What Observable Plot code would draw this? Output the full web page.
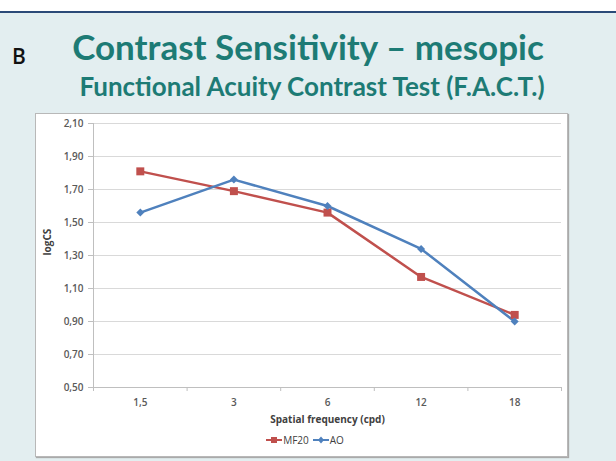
<!DOCTYPE html>
<html>
<head>
<meta charset="utf-8">
<script src="https://cdn.jsdelivr.net/npm/d3@7"></script>
<script src="https://cdn.jsdelivr.net/npm/@observablehq/plot@0.6"></script>
<style>
  html, body { margin: 0; padding: 0; }
  body { width: 616px; height: 461px; background: #e3eef0; position: relative; overflow: hidden; font-family: Lato, "Open Sans", sans-serif; }
  #topstrip { position: absolute; left: 0; top: 0; width: 616px; height: 11px; background: #fff; border-bottom: 2px solid #2b4a78; }
  #letter { position: absolute; left: 12px; top: 42px; font: 600 21px "Open Sans", sans-serif; color: #111; }
  #title { position: absolute; left: 0; width: 616px; text-align: center; top: 25px; font: bold 35px Lato, sans-serif; color: #1d7b75; box-sizing: border-box; }
  #subtitle { position: absolute; left: 0; width: 616px; text-align: center; top: 70px; font: bold 26px Lato, sans-serif; color: #1d7b75; padding-left: 8px; box-sizing: border-box; }
  #box { position: absolute; left: 35px; top: 113px; width: 533px; height: 344px; background: #fff; border: 1px solid #b8b8b8; box-shadow: 1px 1px 1px #aaa; box-sizing: border-box; }
  #plot { position: absolute; left: 35px; top: 113px; }
  #legend { position: absolute; left: 0; width: 610px; text-align: center; top: 433px; font: 10px "Open Sans", sans-serif; color: #404040; }
  #legend span { display: inline-flex; align-items: center; margin: 0 2px; }
  #legend svg { margin-right: 1px; }
</style>
</head>
<body>
<div id="topstrip"></div>
<div id="letter">B</div>
<div id="title">Contrast Sensitivity – mesopic</div>
<div id="subtitle">Functional Acuity Contrast Test (F.A.C.T.)</div>
<div id="box"></div>
<div id="plot"></div>
<div id="legend"></div>
<script>
const freqLabels = ["1,5", "3", "6", "12", "18"];
const mf20 = [1.81, 1.69, 1.56, 1.17, 0.94];
const ao = [1.56, 1.76, 1.60, 1.34, 0.90];
const yTicks = [0.5, 0.7, 0.9, 1.1, 1.3, 1.5, 1.7, 1.9, 2.1];
const seriesNames = ["MF20", "AO"];
const seriesColors = ["#c0504d", "#4f81bd"];
const xTitle = "Spatial frequency (cpd)";
const yTitle = "logCS";

const rows = [];
freqLabels.forEach((f, i) => {
  rows.push({series: "MF20", idx: i + 0.5, value: mf20[i]});
  rows.push({series: "AO", idx: i + 0.5, value: ao[i]});
});
const mfRows = rows.filter(d => d.series === "MF20");
const aoRows = rows.filter(d => d.series === "AO");
const fmt = d => d.toFixed(2).replace(".", ",");
const boundaries = d3.range(0, freqLabels.length + 1);
const centers = freqLabels.map((f, i) => i + 0.5);

const chart = Plot.plot({
  width: 533,
  height: 344,
  marginLeft: 58,
  marginRight: 7,
  marginTop: 10,
  marginBottom: 70,
  style: {background: "transparent", fontFamily: "'Open Sans', sans-serif", fontSize: "10px", fontWeight: 600, color: "#595959"},
  x: {type: "linear", domain: [0, freqLabels.length]},
  y: {domain: [0.5, 2.1]},
  marks: [
    Plot.gridY(yTicks, {stroke: "#d9d9d9", strokeOpacity: 1, strokeWidth: 1}),
    Plot.ruleX([0], {stroke: "#bfbfbf"}),
    Plot.ruleY([0.5], {stroke: "#bfbfbf"}),
    Plot.axisY(yTicks, {tickFormat: fmt, tickSize: 5, stroke: "#bfbfbf", tickPadding: 5, fill: "#595959", label: null}),
    Plot.axisX(boundaries, {tickSize: 4, stroke: "#bfbfbf", tickFormat: () => "", label: null}),
    Plot.axisX(centers, {tickSize: 0, tickPadding: 11, tickFormat: (d, i) => freqLabels[i], fill: "#595959", label: null}),
    Plot.text([yTitle], {frameAnchor: "left", dx: -46, rotate: -90, fontWeight: "bold", fill: "#404040", fontSize: 10}),
    Plot.text([xTitle], {frameAnchor: "bottom", dy: 35, fontWeight: "bold", fill: "#404040", fontSize: 10}),
    Plot.line(mfRows, {x: "idx", y: "value", stroke: seriesColors[0], strokeWidth: 2.5}),
    Plot.line(aoRows, {x: "idx", y: "value", stroke: seriesColors[1], strokeWidth: 2.5}),
    Plot.dot(mfRows, {x: "idx", y: "value", symbol: "square", r: 4.5, fill: seriesColors[0], stroke: null}),
    Plot.dot(aoRows, {x: "idx", y: "value", symbol: "diamond2", r: 3.6, fill: seriesColors[1], stroke: null})
  ]
});
document.getElementById("plot").appendChild(chart);

// Legend
const legend = document.getElementById("legend");
seriesNames.forEach((name, i) => {
  const span = document.createElement("span");
  const sym = i === 0
    ? `<rect x="5" y="2" width="6" height="6" fill="${seriesColors[i]}"/>`
    : `<path d="M8 1.5 L11 5 L8 8.5 L5 5 Z" fill="${seriesColors[i]}"/>`;
  span.innerHTML = `<svg width="16" height="10"><line x1="0" x2="16" y1="5" y2="5" stroke="${seriesColors[i]}" stroke-width="2"/>${sym}</svg>${name}`;
  legend.appendChild(span);
});
</script>
</body>
</html>
